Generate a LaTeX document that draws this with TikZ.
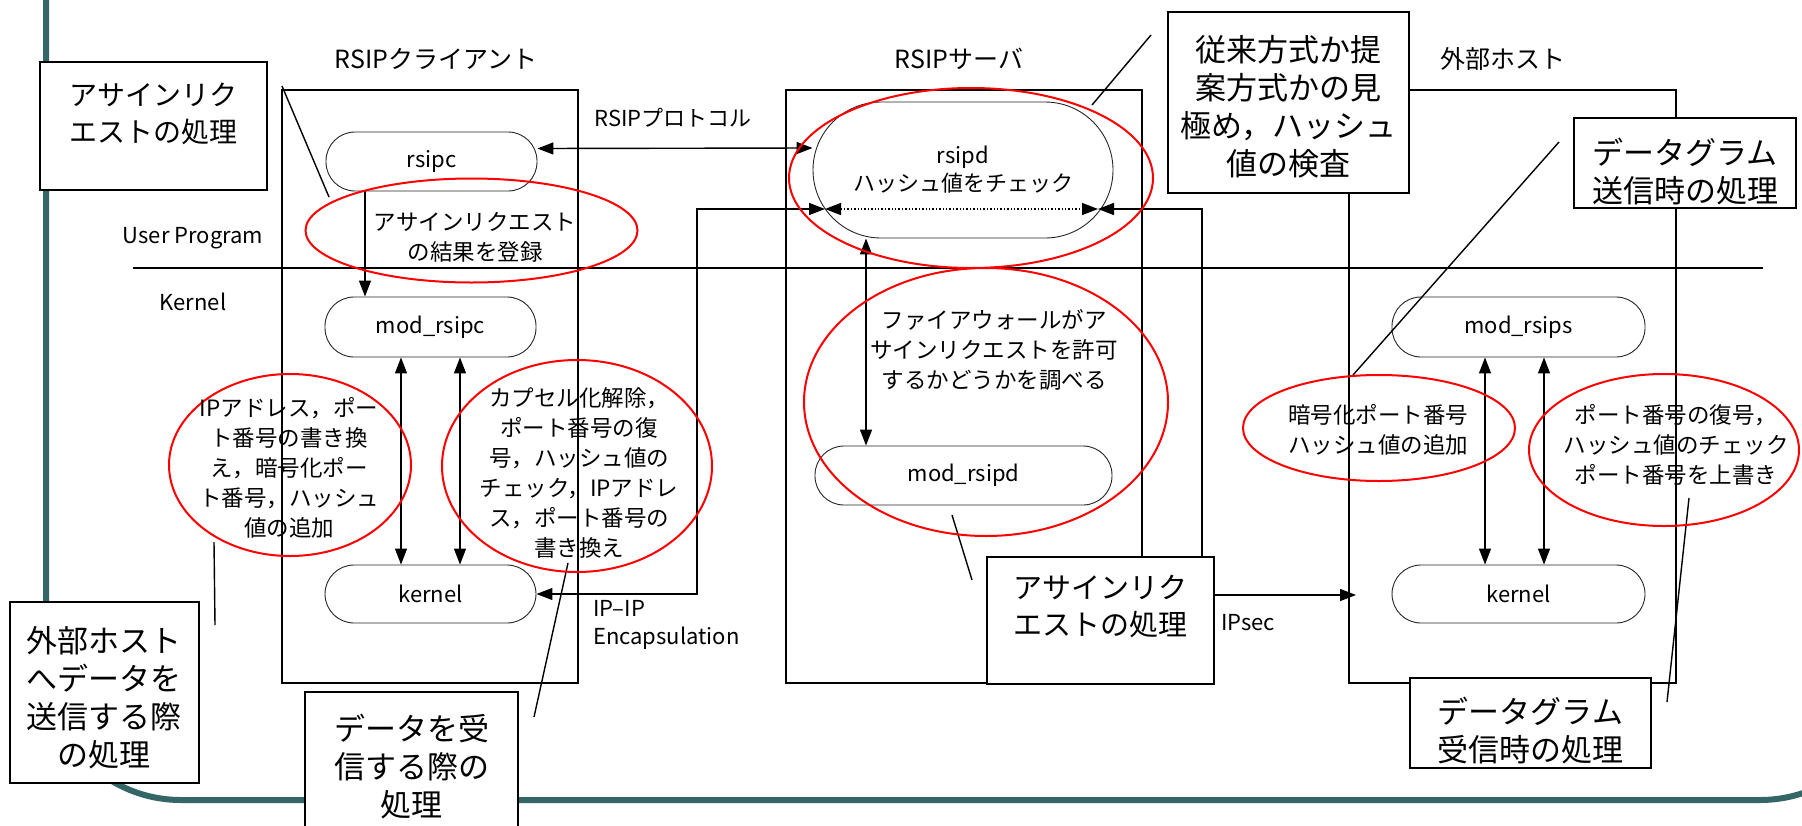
\documentclass[tikz,border=0pt]{standalone}
\usepackage{fontspec}
\setmainfont{Noto Sans CJK JP}
\usetikzlibrary{arrows.meta,calc,shapes.geometric}
\newcommand{\myfs}[2]{\fontsize{#1}{#2}\selectfont}
\definecolor{frameteal}{RGB}{52,102,102}
\begin{document}
\begin{tikzpicture}[x=1pt,y=-1pt,
  tealframe/.style={draw=frameteal, line width=6pt},
  hostbox/.style={draw=black, line width=1.4pt},
  proc/.style={draw=black!85, line width=0.9pt, fill=white, rounded corners=29pt, inner sep=0pt, font=\myfs{22}{28}},
  lbox/.style={draw=black, line width=2pt, fill=white, inner sep=0pt},
  ltext/.style={align=center, inner sep=0pt, font=\myfs{31}{38}},
  etext/.style={align=center, inner sep=0pt, font=\myfs{22.5}{30}},
  hdr/.style={inner sep=0pt, font=\myfs{25}{30}},
  small/.style={inner sep=0pt, font=\myfs{22}{30}},
  redell/.style={ellipse, draw=red, line width=2pt, inner sep=0pt},
  ptr/.style={draw=black, line width=1.4pt},
  arr/.style={line width=1.4pt, -{Triangle[length=16pt,width=12pt]}},
  dbl/.style={line width=1.4pt, {Triangle[length=16pt,width=12pt]}-{Triangle[length=16pt,width=12pt]}}
]
\useasboundingbox (0,0) rectangle (1802,825);
\clip (0,0) rectangle (1802,825);
\fill[white] (0,0) rectangle (1802,825);

% outer frame
\draw[tealframe, rounded corners=135pt] (46,-30) -- (46,800) -- (1895,800) -- (1895,-30);

% host boxes
\draw[hostbox] (282,90) rectangle (578,683);
\draw[hostbox] (786,90) rectangle (1142,683);
\draw[hostbox] (1349,90) rectangle (1676,683);

% divider
\draw[line width=1.4pt] (133,268) -- (1763,268);

% headers and labels
\node[hdr] (hc) at (436,59) {RSIPクライアント};
\node[hdr] (hs) at (959,59) {RSIPサーバ};
\node[hdr] (he) at (1503,59) {外部ホスト};
\node[small] (proto) at (673,118) {RSIPプロトコル};
\node[small] (up) at (193,238) {User Program};
\node[small] (kl) at (193,302) {Kernel};
\node[small, anchor=west] (ipip1) at (593,608) {IP–IP};
\node[small, anchor=west] (ipip2) at (593,638) {Encapsulation};
\node[small, anchor=west] (ipsec) at (1221,623) {IPsec};

% process nodes
\node[proc, minimum width=211, minimum height=59] (rsipc) at (431.5,161.5) {rsipc};
\node[proc, minimum width=211, minimum height=60] (modrsipc) at (430.5,327) {mod\_rsipc};
\node[proc, minimum width=211, minimum height=58] (kernelc) at (430.5,594) {kernel};
\node[proc, rounded corners=68pt, minimum width=300, minimum height=136, align=center] (rsipd) at (963,170) {rsipd\\ハッシュ値をチェック};
\node[proc, minimum width=297, minimum height=59] (modrsipd) at (963.5,475.5) {mod\_rsipd};
\node[proc, minimum width=253, minimum height=60] (modrsips) at (1518.5,327) {mod\_rsips};
\node[proc, minimum width=253, minimum height=58] (kernele) at (1518.5,594) {kernel};

% column coordinates
\coordinate (c365) at (365,0);
\coordinate (c401) at (401,0);
\coordinate (c460) at (460,0);
\coordinate (c866) at (866,0);
\coordinate (c1485) at (1485,0);
\coordinate (c1544) at (1544,0);
\coordinate (lj) at (825,209);
\coordinate (rj) at (1098,209);
\coordinate (ipc) at (697,209);
\coordinate (ipsc) at (1202,209);
\coordinate (ipsend) at (1356,595);

% connectors
\draw[dbl] ([yshift=13pt]rsipc.east) -- ([yshift=22pt]rsipd.west);
\draw[arr] (rsipc.south -| c365) -- (modrsipc.north -| c365);
\draw[dbl] (modrsipc.south -| c401) -- (kernelc.north -| c401);
\draw[dbl] (modrsipc.south -| c460) -- (kernelc.north -| c460);
\draw[dbl] (rsipd.south -| c866) -- (modrsipd.north -| c866);
\draw[dbl] (modrsips.south -| c1485) -- (kernele.north -| c1485);
\draw[dbl] (modrsips.south -| c1544) -- (kernele.north -| c1544);
\draw[dbl] (kernelc.east) -| (ipc) -- (lj);
\draw[dbl, dotted] (lj) -- (rj);
\draw[dbl] (rj) -- (ipsc) |- (ipsend);

% pointer lines
\coordinate (p1a) at (282,86);   \coordinate (p1b) at (329,197);
\coordinate (p2a) at (214,542);  \coordinate (p2b) at (215,625);
\coordinate (p3a) at (568,563);  \coordinate (p3b) at (534,717);
\coordinate (p4a) at (1092,105); \coordinate (p4b) at (1151,35);
\coordinate (p5a) at (952,515);  \coordinate (p5b) at (972,580);
\coordinate (p6a) at (1559,142); \coordinate (p6b) at (1353,375);
\coordinate (p7a) at (1689,498); \coordinate (p7b) at (1667,702);
\draw[ptr] (p1a) -- (p1b);
\draw[ptr] (p2a) -- (p2b);
\draw[ptr] (p3a) -- (p3b);
\draw[ptr] (p4a) -- (p4b);
\draw[ptr] (p5a) -- (p5b);
\draw[ptr] (p6a) -- (p6b);
\draw[ptr] (p7a) -- (p7b);

% red ellipses
\node[redell, minimum width=332, minimum height=104] (e1) at (471.5,230.5) {};
\node[redell, minimum width=242, minimum height=182] (e2) at (290,465) {};
\node[redell, minimum width=270, minimum height=212] (e3) at (577,466) {};
\node[redell, minimum width=364, minimum height=180] (e4) at (971,178) {};
\node[redell, minimum width=364, minimum height=268] (e5) at (986,402) {};
\node[redell, minimum width=272, minimum height=106] (e6) at (1379,428) {};
\node[redell, minimum width=270, minimum height=152] (e7) at (1664,450) {};

% ellipse texts
\node[etext] (t1) at (475,237) {アサインリクエスト\\の結果を登録};
\node[etext] (t2) at (289,468) {IPアドレス，ポー\\ト番号の書き換\\え，暗号化ポー\\ト番号，ハッシュ\\値の追加};
\node[etext] (t3) at (579,473) {カプセル化解除，\\ポート番号の復\\号，ハッシュ値の\\チェック，IPアドレ\\ス，ポート番号の\\書き換え};
\node[etext] (t5) at (994,350) {ファイアウォールがア\\サインリクエストを許可\\するかどうかを調べる};
\node[etext] (t6) at (1378,430) {暗号化ポート番号\\ハッシュ値の追加};
\node[etext] (t7) at (1676,445) {ポート番号の復号，\\ハッシュ値のチェック\\ポート番号を上書き};

% label boxes
\node[lbox, minimum width=227, minimum height=128] (b1) at (153.5,126) {};
\node[ltext, font=\myfs{28}{37}] (b1t) at (153.5,113.5) {アサインリク\\エストの処理};
\node[lbox, minimum width=227, minimum height=127] (b2) at (1100.5,620.5) {};
\node[ltext, font=\myfs{29}{37}] (b2t) at (1100.5,606.5) {アサインリク\\エストの処理};
\node[lbox, minimum width=241, minimum height=181] (b3) at (1288.5,102.5) {};
\node[ltext] (b3t) at (1288.5,107) {従来方式か提\\案方式かの見\\極め，ハッシュ\\値の検査};
\node[lbox, minimum width=222, minimum height=90] (b4) at (1685,163) {};
\node[ltext] (b4t) at (1685,172) {データグラム\\送信時の処理};
\node[lbox, minimum width=241, minimum height=90] (b5) at (1530.5,723) {};
\node[ltext] (b5t) at (1530.5,731) {データグラム\\受信時の処理};
\node[lbox, minimum width=189, minimum height=181] (b6) at (104.5,692.5) {};
\node[ltext] (b6t) at (104.5,698) {外部ホスト\\へデータを\\送信する際\\の処理};
\node[lbox, minimum width=213, minimum height=160] (b7) at (411.5,772) {};
\node[ltext] (b7t) at (411.5,767) {データを受\\信する際の\\処理};
\end{tikzpicture}
\end{document}
